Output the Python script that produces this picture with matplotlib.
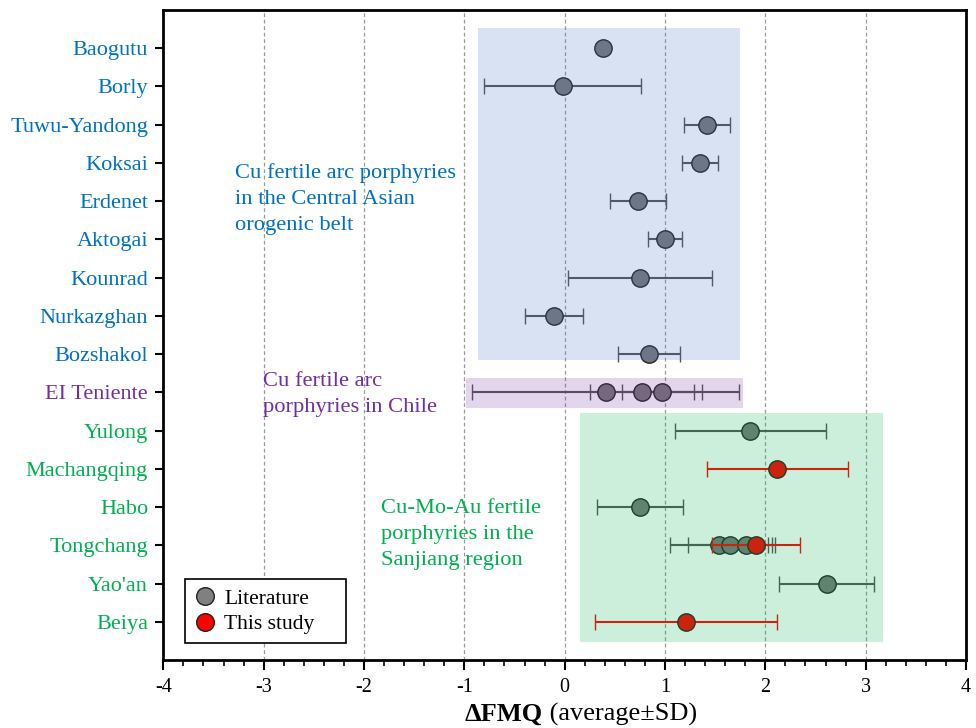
import matplotlib
matplotlib.use("Agg")
import matplotlib.pyplot as plt
from matplotlib.patches import Rectangle
from matplotlib.lines import Line2D
from matplotlib.ticker import MultipleLocator

plt.rcParams['font.family'] = ['Liberation Serif', 'DejaVu Serif']

# Deposits, top to bottom
deposits = ["Baogutu", "Borly", "Tuwu-Yandong", "Koksai", "Erdenet", "Aktogai",
            "Kounrad", "Nurkazghan", "Bozshakol", "EI Teniente", "Yulong",
            "Machangqing", "Habo", "Tongchang", "Yao'an", "Beiya"]
label_groups = ["caob"] * 9 + ["chile"] + ["sanjiang"] * 6

# Literature data: deposit, mean ΔFMQ, SD
lit_site = ["Baogutu", "Borly", "Tuwu-Yandong", "Koksai", "Erdenet", "Aktogai",
            "Kounrad", "Nurkazghan", "Bozshakol",
            "EI Teniente", "EI Teniente", "EI Teniente",
            "Yulong", "Habo", "Tongchang", "Tongchang", "Tongchang", "Yao'an"]
lit_mean = [0.38, -0.02, 1.42, 1.35, 0.73, 1.00, 0.75, -0.11, 0.84,
            0.41, 0.77, 0.97,
            1.85, 0.75, 1.54, 1.65, 1.81, 2.61]
lit_sd = [0.00, 0.78, 0.23, 0.18, 0.28, 0.17, 0.72, 0.29, 0.31,
          1.33, 0.52, 0.40,
          0.75, 0.43, 0.49, 0.42, 0.29, 0.47]

# This study
new_site = ["Machangqing", "Tongchang", "Beiya"]
new_mean = [2.12, 1.91, 1.21]
new_sd = [0.70, 0.44, 0.91]

# Shaded groups
group_names = ["caob", "chile", "sanjiang"]
group_colors = {"caob": "#4472c4", "chile": "#7030a0", "sanjiang": "#00b050"}
text_colors = {"caob": "#0070c0", "chile": "#7030a0", "sanjiang": "#00b050"}
group_x = {"caob": (-0.86, 1.75), "chile": (-0.98, 1.78), "sanjiang": (0.15, 3.17)}
group_y = {"caob": (-0.53, 8.15), "chile": (8.62, 9.42), "sanjiang": (9.53, 15.52)}
group_text = {
    "caob": "Cu fertile arc porphyries\nin the Central Asian\norogenic belt",
    "chile": "Cu fertile arc\nporphyries in Chile",
    "sanjiang": "Cu-Mo-Au fertile\nporphyries in the\nSanjiang region",
}
group_text_pos = {"caob": (-3.29, 3.94), "chile": (-3.01, 9.06), "sanjiang": (-1.83, 12.72)}

row = {name: i for i, name in enumerate(deposits)}

fig = plt.figure(figsize=(9.76, 7.28), dpi=100)
ax = fig.add_axes([163.3 / 976, (728 - 660) / 728, (966 - 163.3) / 976, 650 / 728])

ax.set_xlim(-4, 4)
ax.set_ylim(16, -1)

# dashed vertical grid
for gx in range(-3, 4):
    ax.axvline(gx, color="#9a9a9a", lw=0.9, ls=(0, (3, 2.2)), zorder=1)

gray = "#787878"
ebar_gray = "#545454"
for site, m, s in zip(lit_site, lit_mean, lit_sd):
    y = row[site]
    ax.errorbar(m, y, xerr=s if s > 0 else None, fmt="o", ms=12.5, mfc=gray, mec="#222222",
                mew=1.0, ecolor=ebar_gray, elinewidth=1.5, capsize=6, capthick=1.5, zorder=3)

for site, m, s in zip(new_site, new_mean, new_sd):
    y = row[site]
    ax.errorbar(m, y, xerr=s, fmt="o", ms=12.5, mfc="#ff0000", mec="#222222",
                mew=1.0, ecolor="#ff0000", elinewidth=1.5, capsize=6, capthick=1.5, zorder=4)

# translucent group panels over the data
for g in group_names:
    x0, x1 = group_x[g]
    y0, y1 = group_y[g]
    ax.add_patch(Rectangle((x0, y0), x1 - x0, y1 - y0, facecolor=group_colors[g],
                           alpha=0.2, edgecolor="none", zorder=5))
    tx, ty = group_text_pos[g]
    ax.text(tx, ty, group_text[g], color=text_colors[g], fontsize=16.2, ha="left",
            va="center", linespacing=1.52, zorder=6)

ax.set_yticks(range(len(deposits)))
ax.set_yticklabels(deposits)
for lbl, g in zip(ax.get_yticklabels(), label_groups):
    lbl.set_color(text_colors[g])
    lbl.set_fontsize(16)

ax.set_xticks(range(-4, 5))
ax.set_xticklabels([str(v) for v in range(-4, 5)], fontsize=14.5)
ax.xaxis.set_minor_locator(MultipleLocator(0.2))
ax.tick_params(axis="x", which="major", direction="out", length=7, width=1.5, pad=6)
ax.tick_params(axis="x", which="minor", direction="out", length=4, width=1.2)
ax.tick_params(axis="y", which="major", direction="out", length=6, width=1.5, pad=5)
ax.tick_params(top=False, right=False)
for sp in ax.spines.values():
    sp.set_linewidth(2.0)
    sp.set_color("black")

# axis title: bold ΔFMQ followed by regular text
lab_y = -0.084
t1 = ax.text(0.5, lab_y, "ΔFMQ", transform=ax.transAxes, fontsize=19, fontweight="bold",
             ha="right", va="center")
t2 = ax.text(0.5, lab_y, " (average±SD)", transform=ax.transAxes, fontsize=19,
             ha="left", va="center")
fig.canvas.draw()
r = fig.canvas.get_renderer()
w1 = t1.get_window_extent(r).width
w2 = t2.get_window_extent(r).width
axw = ax.get_window_extent(r).width
center = (581 - 163.3) / (966 - 163.3)
shift = (w1 - w2) / 2 / axw
t1.set_x(center + shift)
t2.set_x(center + shift)

handles = [
    Line2D([], [], ls="none", marker="o", ms=12.7, mfc="#808080", mec="#222222", mew=1.0),
    Line2D([], [], ls="none", marker="o", ms=12.7, mfc="#ff0000", mec="#222222", mew=1.0),
]
leg = ax.legend(handles, ["Literature", "This study"], loc="lower left",
                bbox_to_anchor=(0.027, 0.026, 0.2006, 0.1), mode="expand",
                borderaxespad=0, fancybox=False,
                edgecolor="black", framealpha=1, fontsize=15.5, handlelength=1.0,
                handletextpad=0.4, borderpad=0.42, labelspacing=0.25)
leg.get_frame().set_linewidth(1.2)
leg.set_zorder(7)

fig.savefig("out.png", dpi=100)
